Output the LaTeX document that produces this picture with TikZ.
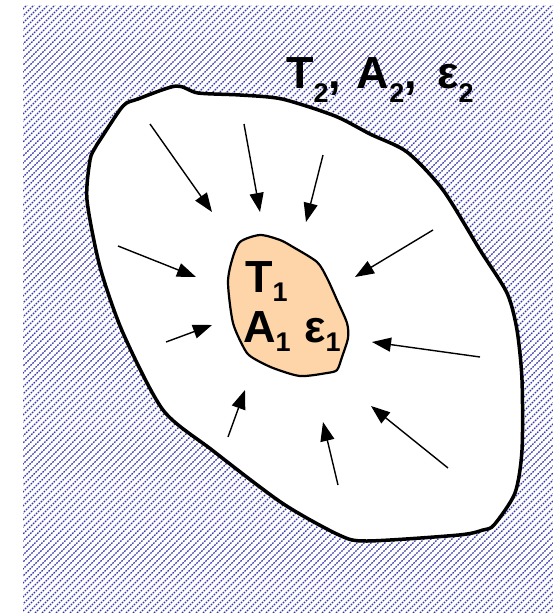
\documentclass[tikz,border=0pt]{standalone}
\usepackage{fontspec}
\setmainfont{Liberation Sans}
\usetikzlibrary{arrows.meta}
\definecolor{hatchblue}{RGB}{55,55,170}
\definecolor{skin}{RGB}{253,213,168}
\newcommand{\lowsub}[2][9pt]{{\fontsize{27pt}{27pt}\selectfont\raisebox{-#1}{#2}}}

\begin{document}
\begin{tikzpicture}[x=1pt,y=-1pt,
    hatch/.style={hatchblue,line width=1.2pt,dash pattern=on 1.7pt off 1.1pt},
    wall/.style={line width=3.5pt,line join=round,fill=white},
    body/.style={line width=2.2pt,line join=round,fill=skin},
    ray/.style={line width=1.4pt,-{Triangle[length=19pt,width=14pt]}},
    lbl/.style={inner sep=0pt,anchor=base west,font=\fontsize{45pt}{45pt}\selectfont\bfseries}]
    \useasboundingbox (0,0) rectangle (553,613);
    \begin{scope}
        \clip (23,5) rectangle (553,613);
        \foreach \k in {-588,-581,...,553}
            \draw[hatch] (\k,613) -- ++(608,-608);
    \end{scope}
    \draw[wall] plot[smooth cycle,tension=0.45] coordinates {
        (176,86) (198,93) (240,95) (282,99) (335,116) (370,134) (407,152)
        (443,190) (480,250) (507,293) (517,330) (522,380) (522,450)
        (515,493) (494,525) (483,530) (459,535) (367,541) (339,535)
        (282,503) (212,450) (163,410) (123,333) (100,267) (87,200)
        (90,160) (95,148) (100,140) (123,106) (138,99)};
    \draw[body] plot[smooth cycle,tension=0.45] coordinates {
        (240,242) (260,235) (280,240) (293,247) (317,262) (327,278)
        (337,300) (347,323) (348,338) (342,357) (337,370) (327,373)
        (300,376) (273,368) (253,358) (245,350) (233,323) (228,283)
        (232,260)};
    \foreach \ax/\ay/\bx/\by in {150/124/212/212, 244/124/260/212,
        323/155/306/222, 118/246/196/277, 166/342/212/325,
        228/437/245/390, 338/485/323/422, 448/468/371/406,
        433/230/355/277, 480/357/372/342}
        \draw[ray] (\ax,\ay) -- (\bx,\by);
    \node[lbl] (tone) at (245,292) {T\lowsub{1}};
    \node[lbl] (aone) at (243,342) {A\lowsub{1}\hspace{0.3em}ε\lowsub{1}};
    \node[lbl] (ttwo) at (286,88) {T\lowsub[14pt]{2},\hspace{0.35em}A\lowsub[14pt]{2},\hspace{0.45em}ε\lowsub[14pt]{2}};
\end{tikzpicture}
\end{document}
